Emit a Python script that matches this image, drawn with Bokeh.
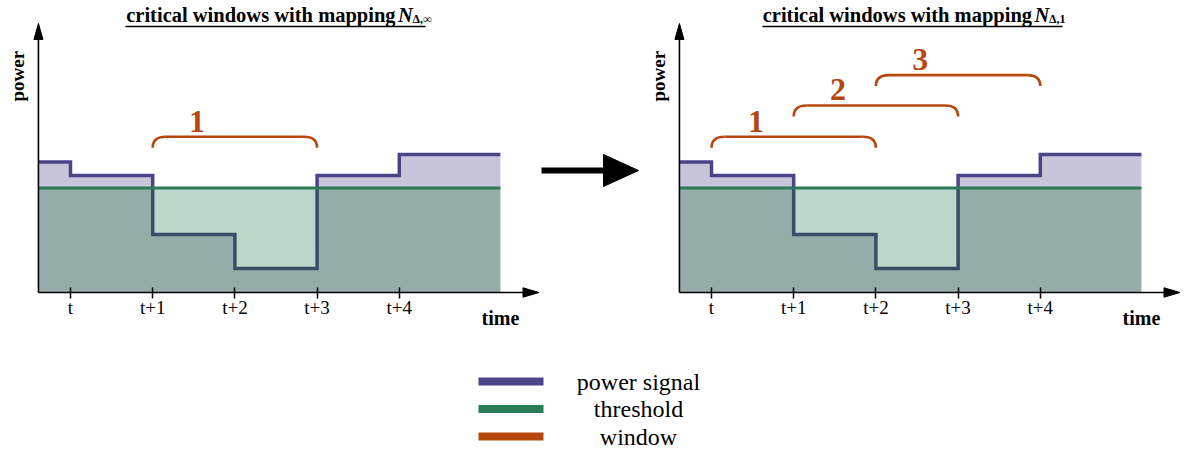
import numpy as np
from bokeh.plotting import figure
from bokeh.models import Range1d, LinearAxis, FixedTicker
from bokeh.layouts import row, column
from bokeh.embed import file_html
from bokeh.resources import INLINE
from bokeh.core.properties import value

# ---------------- data ----------------
tick_values = [0, 1, 2, 3, 4]
tick_labels = ["t", "t+1", "t+2", "t+3", "t+4"]
signal_edges = [-0.39, 0, 1, 2, 3, 4, 5.23]          # time (steps) where the power level changes
power_levels = [1.25, 1.12, 0.555, 0.23, 1.12, 1.32]  # power relative to threshold
threshold = 1.0

title_main = "critical windows with mapping"
title_sym = "N"
left_sub = "Δ,∞"
right_sub = "Δ,1"

left_win_start = [1]
left_win_end = [3]
left_win_top = [1.49]
left_win_label = ["1"]

right_win_start = [0, 1, 2]
right_win_end = [2, 3, 4]
right_win_top = [1.49, 1.79, 2.08]
right_win_label = ["1", "2", "3"]

legend_labels = ["power signal", "threshold", "window"]

# ---------------- style ----------------
C_POWER = "#4A4587"
C_POWER_LOW = "#3B4B68"
C_THR = "#2C7B57"
C_WIN = "#B6470D"
C_DARK = "#94ADA8"
C_LIGHT = "#BCD7CA"
C_LAV = "#C8C5DA"
SERIF = "Liberation Serif"

PX = 82.2       # pixels per time step
PY = 104.5      # pixels per power unit
TOP_H = 330
Y_TOP = 292 / PY
Y_BOTTOM = -(TOP_H - 292) / PY
AXIS_TOP = (292 - 23) / PY
X_TIP = 5.70
DX = 0.16
DROP = 0.105


def power_pieces(xs, ys, thr):
    pieces, colors = [], []
    cur, cur_cls = None, None
    for i in range(len(xs) - 1):
        x0, y0, x1, y1 = xs[i], ys[i], xs[i + 1], ys[i + 1]
        if (y0 - thr) * (y1 - thr) < 0:
            segs = [((x0, y0), (x0, thr)), ((x0, thr), (x1, y1))]
        else:
            segs = [((x0, y0), (x1, y1))]
        for a, b in segs:
            cls = (a[1] + b[1]) / 2 > thr
            if cls == cur_cls:
                cur[0].append(b[0]); cur[1].append(b[1])
            else:
                if cur is not None:
                    pieces.append(cur); colors.append(C_POWER if cur_cls else C_POWER_LOW)
                cur = ([a[0], b[0]], [a[1], b[1]])
                cur_cls = cls
    pieces.append(cur); colors.append(C_POWER if cur_cls else C_POWER_LOW)
    return pieces, colors


def panel(width, x_start, sub, wstart, wend, wtop, wlab, title_pos):
    x_end = x_start + width / PX
    p = figure(width=width, height=TOP_H, x_range=Range1d(x_start, x_end),
               y_range=Range1d(Y_BOTTOM, Y_TOP), output_backend="svg",
               toolbar_location=None, x_axis_type=None, y_axis_type=None,
               min_border=0)
    p.outline_line_color = None
    p.background_fill_color = "white"
    p.border_fill_color = "white"

    xs = np.repeat(signal_edges, 2)[1:-1]
    ys = np.repeat(power_levels, 2)
    low = np.minimum(ys, threshold)
    high = np.maximum(ys, threshold)
    p.varea(x=xs, y1=np.zeros_like(ys), y2=low, fill_color=C_DARK)
    p.varea(x=xs, y1=low, y2=np.full_like(ys, threshold), fill_color=C_LIGHT)
    p.varea(x=xs, y1=np.full_like(ys, threshold), y2=high, fill_color=C_LAV)

    pieces, colors = power_pieces(list(xs), list(ys), threshold)
    p.multi_line(xs=[pc[0] for pc in pieces], ys=[pc[1] for pc in pieces],
                 line_color=colors, line_width=3.5, line_join="miter")
    p.line(x=[signal_edges[0], signal_edges[-1]], y=[threshold, threshold],
           line_color=C_THR, line_width=3)

    # axes lines + arrow heads
    x0 = signal_edges[0]
    p.segment(x0=[x0, x0], y0=[0, 0], x1=[x0, X_TIP - 0.1], y1=[AXIS_TOP - 0.1, 0],
              line_color="black", line_width=1.6)
    p.patch(x=[X_TIP, X_TIP - 0.195, X_TIP - 0.195], y=[0, 0.045, -0.045], color="black")
    p.patch(x=[x0, x0 - 0.055, x0 + 0.055], y=[AXIS_TOP, AXIS_TOP - 0.153, AXIS_TOP - 0.153],
            color="black")

    ax = LinearAxis(ticker=FixedTicker(ticks=tick_values), fixed_location=0,
                    major_label_overrides={v: l for v, l in zip(tick_values, tick_labels)},
                    axis_line_color=None, major_tick_in=5, major_tick_out=6,
                    major_tick_line_width=1.5, major_tick_line_color="black",
                    minor_tick_line_color=None, major_label_text_font=SERIF,
                    major_label_text_font_size="19px", major_label_standoff=-2,
                    major_label_text_color="black")
    p.add_layout(ax, "below")

    # axis titles
    p.text(x=[-0.64], y=[2.07], text=["power"], angle=np.pi / 2,
           text_font=value(SERIF), text_font_style="bold", text_font_size="19px",
           text_align="center", text_baseline="middle", text_color="black")
    p.text(x=[signal_edges[-1]], y=[-0.24], text=["time"],
           text_font=value(SERIF), text_font_style="bold", text_font_size="20px",
           text_align="center", text_baseline="middle", text_color="black")

    # title
    main_right, n_left, sub_left, ul_left, ul_right = title_pos
    p.text(x=[main_right], y=[2.655], text=[title_main], text_font=value(SERIF),
           text_font_style="bold", text_font_size="20.5px", text_align="right",
           text_baseline="middle", text_color="black")
    p.text(x=[n_left], y=[2.655], text=[title_sym], text_font=value(SERIF),
           text_font_style="bold italic", text_font_size="20.5px", text_align="left",
           text_baseline="middle", text_color="black")
    p.text(x=[sub_left], y=[2.618], text=[sub], text_font=value(SERIF),
           text_font_style="bold", text_font_size="12px", text_align="left",
           text_baseline="middle", text_color="black")
    p.segment(x0=[ul_left], y0=[2.545], x1=[ul_right], y1=[2.545],
              line_color="black", line_width=1.5)

    # windows (brackets)
    s = np.array(wstart, dtype=float)
    e = np.array(wend, dtype=float)
    t = np.array(wtop, dtype=float)
    p.quadratic(x0=s, y0=t - DROP, x1=s + DX, y1=t, cx=s, cy=t,
                line_color=C_WIN, line_width=2.6)
    p.segment(x0=s + DX, y0=t, x1=e - DX, y1=t, line_color=C_WIN, line_width=2.6)
    p.quadratic(x0=e - DX, y0=t, x1=e, y1=t - DROP, cx=e, cy=t,
                line_color=C_WIN, line_width=2.6)
    p.text(x=s + 0.54, y=t + 0.15, text=wlab, text_font=value(SERIF),
           text_font_style="bold", text_font_size="32px", text_color=C_WIN,
           text_align="center", text_baseline="middle")
    return p


# left panel: page x 0..540, t at x=70 ; right panel: page x 640..1187, t at x=711
left = panel(540, -70 / PX, left_sub, left_win_start, left_win_end,
             left_win_top, left_win_label, (3.955, 3.985, 4.16, 0.67, 4.32))
right = panel(547, -71 / PX, right_sub, right_win_start, right_win_end,
              right_win_top, right_win_label, (3.90, 3.93, 4.105, 0.62, 4.27))

# middle arrow (page x 540..640)
mid = figure(width=100, height=TOP_H, x_range=Range1d(0, 100), y_range=Range1d(TOP_H, 0),
             output_backend="svg", toolbar_location=None, x_axis_type=None,
             y_axis_type=None, min_border=0)
mid.outline_line_color = None
mid.segment(x0=[1], y0=[170], x1=[66], y1=[170], line_color="black", line_width=6)
mid.patch(x=[63, 98, 63], y=[154, 170, 186], color="black")

# legend (page y 330..451)
LEG_H = 121
leg = figure(width=1187, height=LEG_H, x_range=Range1d(0, 1187),
             y_range=Range1d(2 + (LEG_H - 106) / 27.5, -51 / 27.5),
             output_backend="svg", toolbar_location=None, x_axis_type=None,
             y_axis_type=None, min_border=0)
leg.outline_line_color = None
rows_y = list(range(len(legend_labels)))
leg.segment(x0=[478] * 3, y0=rows_y, x1=[543] * 3, y1=rows_y,
            line_color=[C_POWER, C_THR, C_WIN], line_width=8)
leg.text(x=[638] * 3, y=rows_y, text=legend_labels, text_font=value(SERIF),
         text_font_size="24px", text_align="center", text_baseline="middle",
         text_color="black")

layout = column(row(left, mid, right, spacing=0), leg, spacing=0)
open("out.html", "w").write(file_html(layout, INLINE))
